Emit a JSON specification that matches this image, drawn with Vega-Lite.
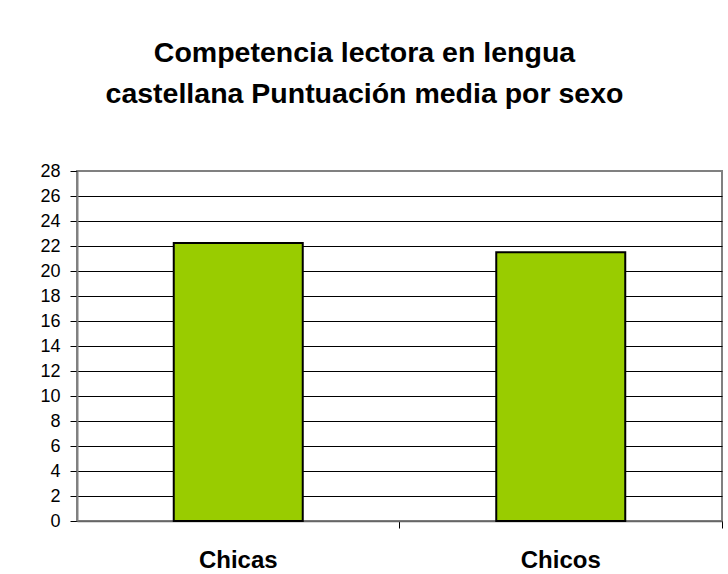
{
  "$schema": "https://vega.github.io/schema/vega-lite/v6.json",
  "width": 645,
  "height": 350,
  "autosize": "none",
  "padding": {"left": 77, "top": 171, "right": 6, "bottom": 53},
  "background": "white",
  "title": {
    "text": ["Competencia lectora en lengua", "castellana Puntuación media por sexo"],
    "font": "Liberation Sans",
    "fontSize": 28.5,
    "fontWeight": "bold",
    "color": "black",
    "anchor": "middle",
    "frame": "group",
    "baseline": "alphabetic",
    "lineHeight": 41,
    "offset": 31,
    "dx": -35
  },
  "data": {
    "values": [
      {"sexo": "Chicas", "puntuacion": 22.25},
      {"sexo": "Chicos", "puntuacion": 21.5}
    ]
  },
  "mark": {"type": "bar", "fill": "#99CC00", "stroke": "black", "strokeWidth": 2},
  "encoding": {
    "x": {
      "field": "sexo",
      "type": "nominal",
      "sort": null,
      "scale": {"paddingInner": 0.6, "paddingOuter": 0.3},
      "axis": {
        "title": null,
        "labelAngle": 0,
        "labelFont": "Liberation Sans",
        "labelFontSize": 24,
        "labelFontWeight": "bold",
        "labelColor": "black",
        "labelBaseline": "alphabetic",
        "labelPadding": 39,
        "tickSize": 7,
        "tickColor": "black",
        "tickWidth": 1,
        "bandPosition": 1.75,
        "domainColor": "#666666",
        "domainWidth": 1.5,
        "grid": false
      }
    },
    "y": {
      "field": "puntuacion",
      "type": "quantitative",
      "scale": {"domain": [0, 28], "nice": false},
      "axis": {
        "title": null,
        "values": [0, 2, 4, 6, 8, 10, 12, 14, 16, 18, 20, 22, 24, 26, 28],
        "labelFont": "Liberation Sans",
        "labelFontSize": 18,
        "labelColor": "black",
        "labelPadding": 10,
        "tickSize": 7,
        "tickColor": "black",
        "tickWidth": 1,
        "grid": true,
        "gridColor": {"condition": {"test": "datum.value == 28", "value": "#808080"}, "value": "black"},
        "gridWidth": 1,
        "gridOpacity": 1,
        "domainColor": "#808080",
        "domainWidth": 2
      }
    }
  },
  "config": {"view": {"stroke": "#808080", "strokeWidth": 2}}
}
